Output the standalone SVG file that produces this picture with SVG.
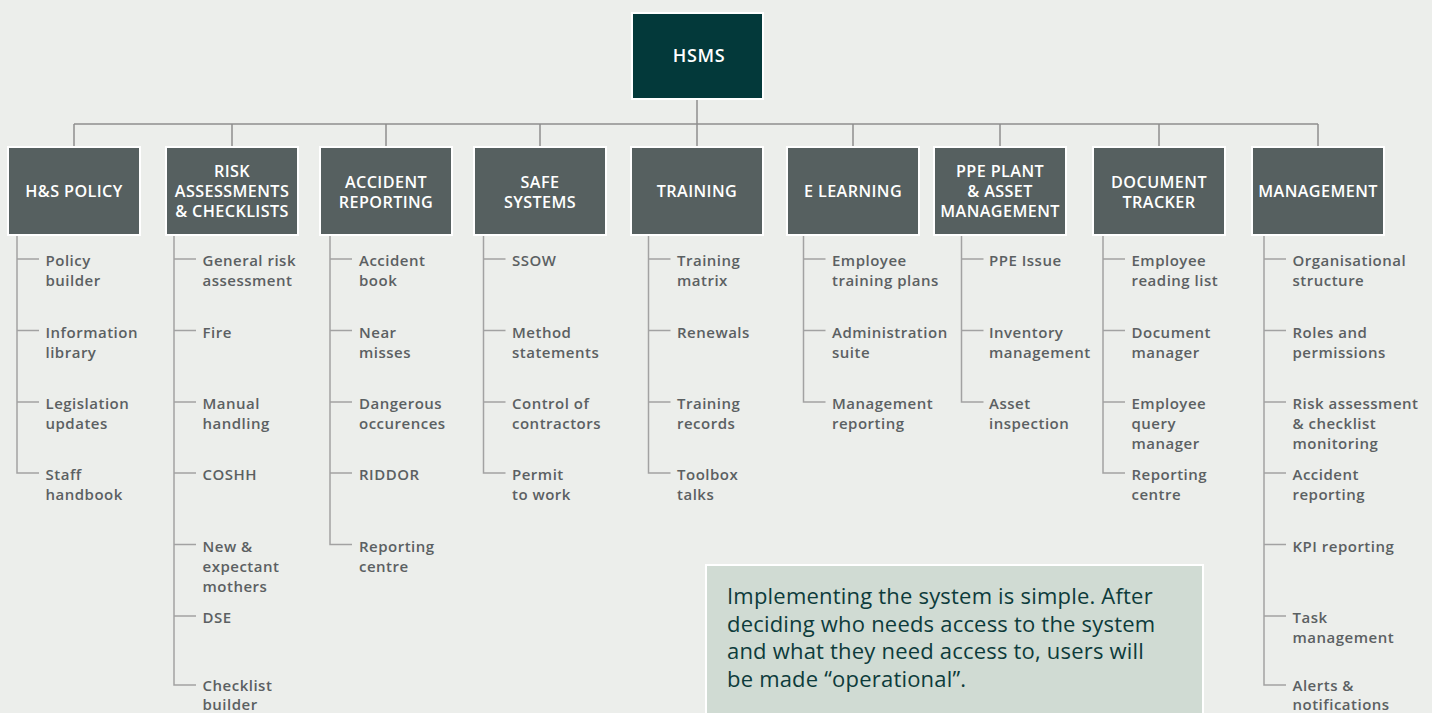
<svg xmlns="http://www.w3.org/2000/svg" width="1432" height="713" viewBox="0 0 1432 713">
<style>
.bg{fill:#eceeeb}
.box{fill:#566060;stroke:#ffffff;stroke-width:2}
.root{fill:#03393a;stroke:#ffffff;stroke-width:2}
.hd{font-family:"Open Sans","Liberation Sans",sans-serif;font-size:16.2px;font-weight:600;fill:#ffffff;text-anchor:middle;letter-spacing:0.4px}
.rt{font-family:"Open Sans","Liberation Sans",sans-serif;font-size:18px;font-weight:600;fill:#ffffff;text-anchor:middle;letter-spacing:0.6px}
.it{font-family:"Open Sans","Liberation Sans",sans-serif;font-size:15px;font-weight:600;fill:#5b6062;letter-spacing:0.5px}
.top{fill:none;stroke:#8e8e8e;stroke-width:1.5}
.ln{fill:none;stroke:#a2a2a2;stroke-width:1.5}
.note{fill:#d0dbd3;stroke:#ffffff;stroke-width:2}
.nt{font-family:"Open Sans","Liberation Sans",sans-serif;font-size:22px;fill:#0d3b3b;letter-spacing:0.2px}
</style>
<rect class="bg" x="0" y="0" width="1432" height="713"/>

<g id="connectors">
<path class="top" d="M697 100V124M74 124H1318M74 124V146M232 124V146M386 124V146M540 124V146M697 124V146M853 124V146M1000 124V146M1159 124V146M1318 124V146"/>
<path class="ln" d="M17 236V473H39M17 259H39M17 330.5H39M17 402H39"/>
<path class="ln" d="M174 236V685H196M174 259H196M174 330.5H196M174 402H196M174 473H196M174 544.5H196M174 616H196"/>
<path class="ln" d="M330 236V544.5H352M330 259H352M330 330.5H352M330 402H352M330 473H352"/>
<path class="ln" d="M483.5 236V473H505.5M483.5 259H505.5M483.5 330.5H505.5M483.5 402H505.5"/>
<path class="ln" d="M648.5 236V473H670.5M648.5 259H670.5M648.5 330.5H670.5M648.5 402H670.5"/>
<path class="ln" d="M803.5 236V402H825.5M803.5 259H825.5M803.5 330.5H825.5"/>
<path class="ln" d="M961.5 236V402H983.5M961.5 259H983.5M961.5 330.5H983.5"/>
<path class="ln" d="M1103 236V473H1125M1103 259H1125M1103 330.5H1125M1103 402H1125"/>
<path class="ln" d="M1264 236V685H1286M1264 259H1286M1264 330.5H1286M1264 402H1286M1264 473H1286M1264 544.5H1286M1264 616H1286"/>
</g>

<g id="hsms">
<rect class="root" x="632" y="13" width="131" height="86"/>
<text class="rt" x="699" y="62">HSMS</text>
</g>

<g id="hs-policy">
<rect class="box" x="8" y="147" width="132" height="88"/>
<text class="hd" x="74" y="197">H&amp;S POLICY</text>
<text class="it" x="45.5" y="266">Policy<tspan x="45.5" dy="20">builder</tspan></text>
<text class="it" x="45.5" y="337.5">Information<tspan x="45.5" dy="20">library</tspan></text>
<text class="it" x="45.5" y="409">Legislation<tspan x="45.5" dy="20">updates</tspan></text>
<text class="it" x="45.5" y="480">Staff<tspan x="45.5" dy="20">handbook</tspan></text>
</g>

<g id="risk">
<rect class="box" x="166" y="147" width="132" height="88"/>
<text class="hd" x="232" y="177">RISK<tspan x="232" dy="20">ASSESSMENTS</tspan><tspan x="232" dy="20">&amp; CHECKLISTS</tspan></text>
<text class="it" x="202.5" y="266">General risk<tspan x="202.5" dy="20">assessment</tspan></text>
<text class="it" x="202.5" y="337.5">Fire</text>
<text class="it" x="202.5" y="409">Manual<tspan x="202.5" dy="20">handling</tspan></text>
<text class="it" x="202.5" y="480">COSHH</text>
<text class="it" x="202.5" y="551.5">New &amp;<tspan x="202.5" dy="20">expectant</tspan><tspan x="202.5" dy="20">mothers</tspan></text>
<text class="it" x="202.5" y="623">DSE</text>
<text class="it" x="202.5" y="691">Checklist<tspan x="202.5" dy="18.5">builder</tspan></text>
</g>

<g id="accident">
<rect class="box" x="320" y="147" width="132" height="88"/>
<text class="hd" x="386" y="188">ACCIDENT<tspan x="386" dy="20">REPORTING</tspan></text>
<text class="it" x="359" y="266">Accident<tspan x="359" dy="20">book</tspan></text>
<text class="it" x="359" y="337.5">Near<tspan x="359" dy="20">misses</tspan></text>
<text class="it" x="359" y="409">Dangerous<tspan x="359" dy="20">occurences</tspan></text>
<text class="it" x="359" y="480">RIDDOR</text>
<text class="it" x="359" y="551.5">Reporting<tspan x="359" dy="20">centre</tspan></text>
</g>

<g id="safe">
<rect class="box" x="474" y="147" width="132" height="88"/>
<text class="hd" x="540" y="188">SAFE<tspan x="540" dy="20">SYSTEMS</tspan></text>
<text class="it" x="512" y="266">SSOW</text>
<text class="it" x="512" y="337.5">Method<tspan x="512" dy="20">statements</tspan></text>
<text class="it" x="512" y="409">Control of<tspan x="512" dy="20">contractors</tspan></text>
<text class="it" x="512" y="480">Permit<tspan x="512" dy="20">to work</tspan></text>
</g>

<g id="training">
<rect class="box" x="631" y="147" width="132" height="88"/>
<text class="hd" x="697" y="197">TRAINING</text>
<text class="it" x="677" y="266">Training<tspan x="677" dy="20">matrix</tspan></text>
<text class="it" x="677" y="337.5">Renewals</text>
<text class="it" x="677" y="409">Training<tspan x="677" dy="20">records</tspan></text>
<text class="it" x="677" y="480">Toolbox<tspan x="677" dy="20">talks</tspan></text>
</g>

<g id="elearning">
<rect class="box" x="787" y="147" width="132" height="88"/>
<text class="hd" x="853" y="197">E LEARNING</text>
<text class="it" x="832" y="266">Employee<tspan x="832" dy="20">training plans</tspan></text>
<text class="it" x="832" y="337.5">Administration<tspan x="832" dy="20">suite</tspan></text>
<text class="it" x="832" y="409">Management<tspan x="832" dy="20">reporting</tspan></text>
</g>

<g id="ppe">
<rect class="box" x="934" y="147" width="132" height="88"/>
<text class="hd" x="1000" y="177">PPE PLANT<tspan x="1000" dy="20">&amp; ASSET</tspan><tspan x="1000" dy="20">MANAGEMENT</tspan></text>
<text class="it" x="989" y="266">PPE Issue</text>
<text class="it" x="989" y="337.5">Inventory<tspan x="989" dy="20">management</tspan></text>
<text class="it" x="989" y="409">Asset<tspan x="989" dy="20">inspection</tspan></text>
</g>

<g id="document">
<rect class="box" x="1093" y="147" width="132" height="88"/>
<text class="hd" x="1159" y="188">DOCUMENT<tspan x="1159" dy="20">TRACKER</tspan></text>
<text class="it" x="1131.5" y="266">Employee<tspan x="1131.5" dy="20">reading list</tspan></text>
<text class="it" x="1131.5" y="337.5">Document<tspan x="1131.5" dy="20">manager</tspan></text>
<text class="it" x="1131.5" y="409">Employee<tspan x="1131.5" dy="20">query</tspan><tspan x="1131.5" dy="20">manager</tspan></text>
<text class="it" x="1131.5" y="480">Reporting<tspan x="1131.5" dy="20">centre</tspan></text>
</g>

<g id="management">
<rect class="box" x="1252" y="147" width="132" height="88"/>
<text class="hd" x="1318" y="197">MANAGEMENT</text>
<text class="it" x="1292.5" y="266">Organisational<tspan x="1292.5" dy="20">structure</tspan></text>
<text class="it" x="1292.5" y="337.5">Roles and<tspan x="1292.5" dy="20">permissions</tspan></text>
<text class="it" x="1292.5" y="409">Risk assessment<tspan x="1292.5" dy="20">&amp; checklist</tspan><tspan x="1292.5" dy="20">monitoring</tspan></text>
<text class="it" x="1292.5" y="480">Accident<tspan x="1292.5" dy="20">reporting</tspan></text>
<text class="it" x="1292.5" y="551.5">KPI reporting</text>
<text class="it" x="1292.5" y="623">Task<tspan x="1292.5" dy="20">management</tspan></text>
<text class="it" x="1292.5" y="691">Alerts &amp;<tspan x="1292.5" dy="18.5">notifications</tspan></text>
</g>

<g id="note">
<rect class="note" x="706" y="565" width="497" height="160"/>
<text class="nt" x="727" y="604">Implementing the system is simple. After<tspan x="727" dy="27.7">deciding who needs access to the system</tspan><tspan x="727" dy="27.7">and what they need access to, users will</tspan><tspan x="727" dy="27.7">be made “operational”.</tspan></text>
</g>
</svg>
